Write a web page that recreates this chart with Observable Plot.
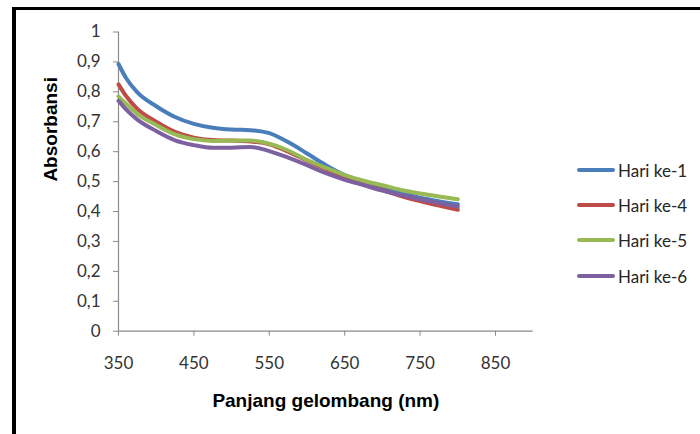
<!DOCTYPE html>
<html><head><meta charset="utf-8">
<script src="https://cdn.jsdelivr.net/npm/d3@7"></script>
<script src="https://cdn.jsdelivr.net/npm/@observablehq/plot@0.6"></script>
<style>
body{margin:0;background:#fff;}
#wrap{position:relative;width:700px;height:434px;overflow:hidden;background:#fff;}
#chart{position:absolute;left:0;top:0;}
#frame{position:absolute;left:12px;top:7px;width:720px;height:460px;border-top:3px solid #000;border-left:4px solid #000;pointer-events:none;}
#legend{position:absolute;left:577px;top:0;font-family:Lato,sans-serif;font-size:17px;color:#262626;}
.item{position:absolute;left:0;height:22px;display:flex;align-items:center;white-space:nowrap;}
.swatch{width:38px;height:4px;border-radius:2px;margin-right:3px;}
</style></head><body>
<div id="wrap"><div id="chart"></div><div id="legend"></div><div id="frame"></div></div>
<script>
// Wavelength (nm)
const wavelengths = [350,360,375,400,425,450,475,500,525,550,575,600,625,650,675,700,725,750,775,800];
// Absorbance series
const hari1 = [0.893,0.846,0.798,0.752,0.716,0.693,0.680,0.674,0.672,0.662,0.632,0.594,0.555,0.522,0.500,0.482,0.462,0.446,0.434,0.424];
const hari4 = [0.825,0.786,0.743,0.700,0.666,0.647,0.639,0.637,0.634,0.625,0.600,0.570,0.542,0.515,0.490,0.472,0.452,0.435,0.420,0.406];
const hari5 = [0.785,0.760,0.726,0.689,0.658,0.642,0.636,0.637,0.637,0.627,0.604,0.572,0.546,0.522,0.503,0.488,0.472,0.460,0.450,0.441];
const hari6 = [0.770,0.741,0.707,0.669,0.638,0.622,0.613,0.613,0.616,0.602,0.580,0.555,0.528,0.506,0.488,0.470,0.455,0.441,0.428,0.416];
const seriesNames = ["Hari ke-1","Hari ke-4","Hari ke-5","Hari ke-6"];
const seriesColors = ["#4A7EBB","#BE4B48","#98B954","#7D60A0"];
const xTicks = [350,450,550,650,750,850];
const yTicks = [0,0.1,0.2,0.3,0.4,0.5,0.6,0.7,0.8,0.9,1];
const xTitle = "Panjang gelombang (nm)";
const yTitle = "Absorbansi";

const allSeries = [hari1,hari4,hari5,hari6];
const data = [];
allSeries.forEach((vals,i) => vals.forEach((v,j) => data.push({series: seriesNames[i], wl: wavelengths[j], a: v})));

const fmt = d3.format(".1~f");
const axisColor = "#8a8a8a";

const chart = Plot.plot({
  width: 700, height: 434,
  marginLeft: 118, marginTop: 31.5, marginBottom: 103.3, marginRight: 167.3,
  x: {domain: [350, 900]},
  y: {domain: [0, 1]},
  color: {domain: seriesNames, range: seriesColors},
  style: {fontFamily: "Lato, sans-serif", fontSize: "17px", background: "transparent", color: "#333"},
  marks: [
    Plot.ruleY([0], {x1: 350, x2: 900, stroke: axisColor, strokeWidth: 1.2}),
    Plot.ruleX([350], {y1: 0, y2: 1, stroke: axisColor, strokeWidth: 1.2}),
    Plot.axisX({ticks: xTicks, tickSize: 5, tickPadding: 21, stroke: axisColor, label: null, fontSize: 17}),
    Plot.axisY({ticks: yTicks, tickSize: 5, tickPadding: 13, stroke: axisColor, label: null, tickFormat: d => fmt(d).replace(".", ","), fontSize: 17}),
    Plot.line(data, {x: "wl", y: "a", z: "series", stroke: "series", strokeWidth: 4, curve: "monotone-x"}),
    Plot.text([xTitle], {frameAnchor: "bottom", dy: 76, fontWeight: "bold", fontSize: 19, fontFamily: "Liberation Sans, Arial, sans-serif", fill: "#000"}),
    Plot.text([yTitle], {frameAnchor: "left", dx: -68, rotate: -90, fontWeight: "bold", fontSize: 19, fontFamily: "Liberation Sans, Arial, sans-serif", fill: "#000"})
  ]
});
document.getElementById("chart").appendChild(chart);

const legendRows = [170, 205, 240, 276];
const legend = document.getElementById("legend");
seriesNames.forEach((name, i) => {
  const item = document.createElement("div");
  item.className = "item";
  item.style.top = (legendRows[i] - 11) + "px";
  const sw = document.createElement("span");
  sw.className = "swatch";
  sw.style.background = seriesColors[i];
  const lab = document.createElement("span");
  lab.textContent = name;
  item.appendChild(sw); item.appendChild(lab);
  legend.appendChild(item);
});
</script>
</body></html>
